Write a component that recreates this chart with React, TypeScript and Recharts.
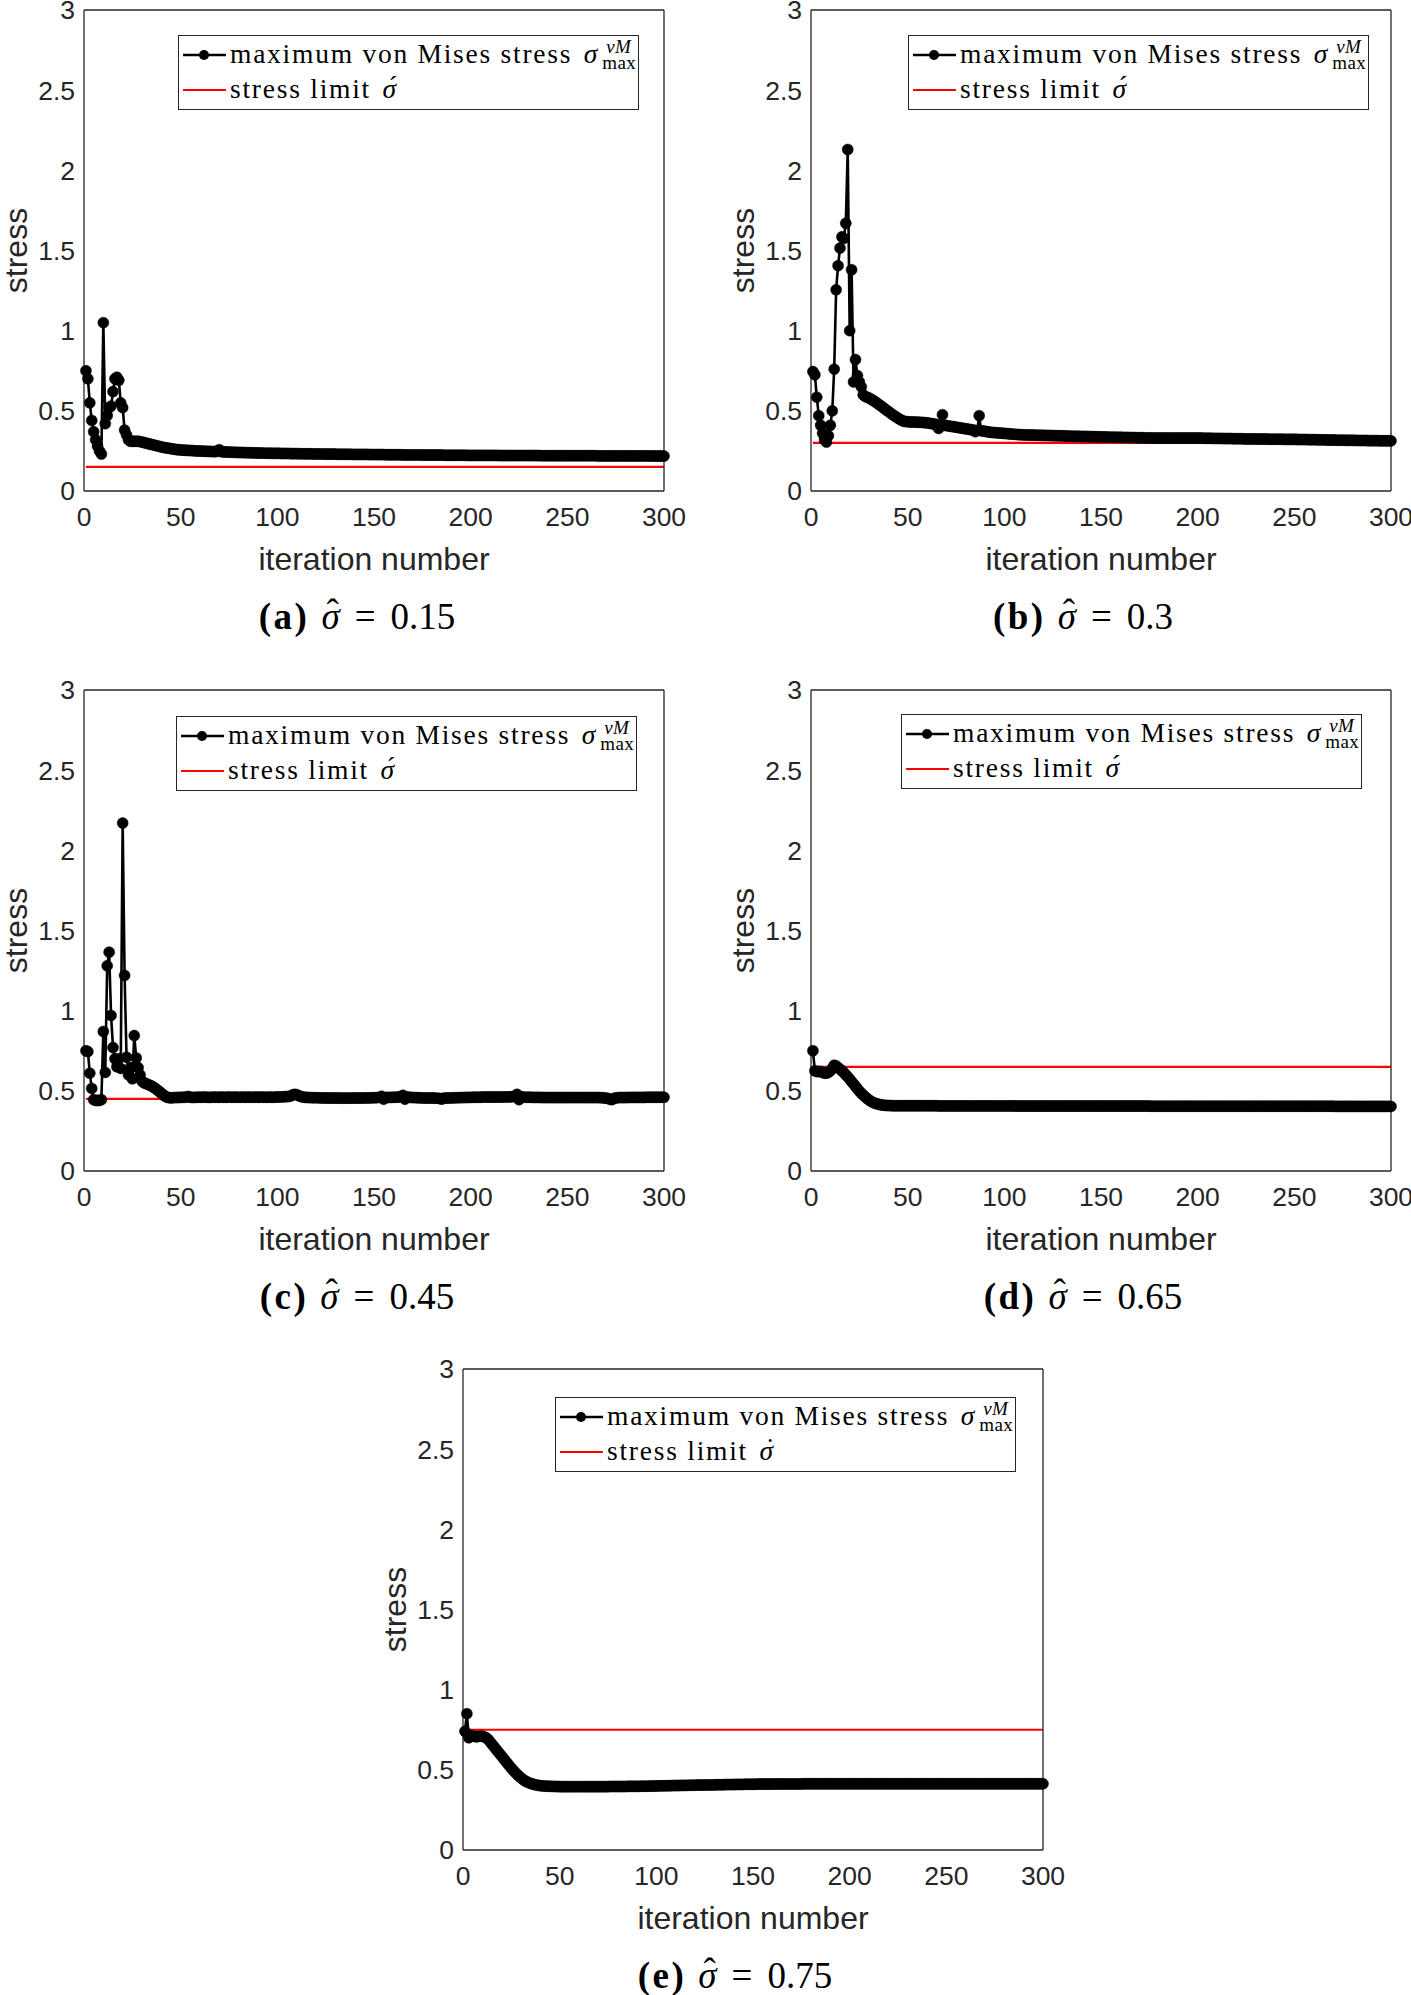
import React from 'react'
import { LineChart, Line, XAxis, YAxis, Legend } from 'recharts'

const AXIS = '#262626'
const SANS = '"Liberation Sans", Arial, Helvetica, sans-serif'
const SERIF = '"Liberation Serif", "Times New Roman", serif'

const xTicks = [0, 50, 100, 150, 200, 250, 300]
const yTicks = [0, 0.5, 1, 1.5, 2, 2.5, 3]
const limitSpan = [1, 300]

const panelTags = ['a', 'b', 'c', 'd', 'e']
const stressLimits = [0.15, 0.3, 0.45, 0.65, 0.75]

// max von Mises stress per iteration (1..300)
const stressA = [
  0.75, 0.70, 0.55, 0.44, 0.37, 0.32, 0.28, 0.25, 0.23, 1.05,
  0.42, 0.47, 0.52, 0.53, 0.62, 0.70, 0.71, 0.69, 0.55, 0.52,
  0.38, 0.35, 0.32, 0.31, 0.31, 0.31, 0.31, 0.31, 0.308, 0.305,
  0.302, 0.299, 0.296, 0.293, 0.29, 0.287, 0.284, 0.281, 0.278, 0.275,
  0.272, 0.27, 0.268, 0.266, 0.264, 0.262, 0.26, 0.258, 0.257, 0.256,
  0.255, 0.254, 0.254, 0.253, 0.252, 0.252, 0.251, 0.25, 0.25, 0.249,
  0.249, 0.248, 0.248, 0.247, 0.247, 0.246, 0.246, 0.245, 0.25, 0.258,
  0.245, 0.244, 0.244, 0.243, 0.243, 0.242, 0.242, 0.241, 0.241, 0.24,
  0.24, 0.24, 0.239, 0.239, 0.239, 0.238, 0.238, 0.238, 0.237, 0.237,
  0.237, 0.237, 0.236, 0.236, 0.236, 0.236, 0.235, 0.235, 0.235, 0.235,
  0.235, 0.234, 0.234, 0.234, 0.234, 0.234, 0.233, 0.233, 0.233, 0.233,
  0.233, 0.232, 0.232, 0.232, 0.232, 0.232, 0.232, 0.231, 0.231, 0.231,
  0.231, 0.231, 0.231, 0.23, 0.23, 0.23, 0.23, 0.23, 0.23, 0.23,
  0.229, 0.229, 0.229, 0.229, 0.229, 0.229, 0.229, 0.229, 0.228, 0.228,
  0.228, 0.228, 0.228, 0.228, 0.228, 0.228, 0.228, 0.227, 0.227, 0.227,
  0.227, 0.227, 0.227, 0.227, 0.227, 0.226, 0.226, 0.226, 0.226, 0.226,
  0.226, 0.226, 0.226, 0.226, 0.225, 0.225, 0.225, 0.225, 0.225, 0.225,
  0.225, 0.225, 0.225, 0.225, 0.224, 0.224, 0.224, 0.224, 0.224, 0.224,
  0.224, 0.224, 0.224, 0.224, 0.224, 0.223, 0.223, 0.223, 0.223, 0.223,
  0.223, 0.223, 0.223, 0.223, 0.223, 0.223, 0.223, 0.222, 0.222, 0.222,
  0.222, 0.222, 0.222, 0.222, 0.222, 0.222, 0.222, 0.222, 0.222, 0.222,
  0.222, 0.222, 0.222, 0.222, 0.221, 0.221, 0.221, 0.221, 0.221, 0.221,
  0.221, 0.221, 0.221, 0.221, 0.221, 0.221, 0.221, 0.221, 0.221, 0.221,
  0.221, 0.221, 0.221, 0.221, 0.221, 0.22, 0.22, 0.22, 0.22, 0.22,
  0.22, 0.22, 0.22, 0.22, 0.22, 0.22, 0.22, 0.22, 0.22, 0.22,
  0.22, 0.22, 0.22, 0.22, 0.22, 0.22, 0.22, 0.22, 0.22, 0.22,
  0.22, 0.22, 0.22, 0.22, 0.22, 0.219, 0.219, 0.219, 0.219, 0.219,
  0.219, 0.219, 0.219, 0.219, 0.219, 0.219, 0.219, 0.219, 0.219, 0.219,
  0.219, 0.219, 0.219, 0.219, 0.219, 0.219, 0.219, 0.219, 0.219, 0.219,
  0.219, 0.219, 0.219, 0.219, 0.218, 0.218, 0.218, 0.218, 0.218, 0.218,
]

const stressB = [
  0.745, 0.725, 0.585, 0.47, 0.41, 0.36, 0.32, 0.305, 0.345, 0.41,
  0.50, 0.76, 1.255, 1.405, 1.515, 1.585, 1.575, 1.67, 2.13, 1.0,
  1.38, 0.68, 0.82, 0.72, 0.68, 0.65, 0.60, 0.59, 0.585, 0.58,
  0.573, 0.566, 0.558, 0.55, 0.541, 0.532, 0.523, 0.514, 0.505, 0.496,
  0.487, 0.478, 0.47, 0.462, 0.454, 0.447, 0.44, 0.435, 0.433, 0.432,
  0.431, 0.431, 0.43, 0.43, 0.429, 0.429, 0.428, 0.427, 0.426, 0.425,
  0.423, 0.421, 0.419, 0.417, 0.415, 0.39, 0.412, 0.476, 0.41, 0.408,
  0.406, 0.404, 0.402, 0.40, 0.398, 0.396, 0.394, 0.392, 0.39, 0.388,
  0.386, 0.384, 0.382, 0.38, 0.37, 0.378, 0.47, 0.376, 0.374, 0.372,
  0.37, 0.368, 0.366, 0.365, 0.364, 0.363, 0.362, 0.361, 0.36, 0.359,
  0.358, 0.357, 0.356, 0.355, 0.354, 0.353, 0.352, 0.351, 0.351, 0.35,
  0.35, 0.35, 0.349, 0.349, 0.349, 0.348, 0.348, 0.348, 0.347, 0.347,
  0.347, 0.346, 0.346, 0.346, 0.345, 0.345, 0.345, 0.344, 0.344, 0.344,
  0.343, 0.343, 0.343, 0.342, 0.342, 0.342, 0.341, 0.341, 0.341, 0.34,
  0.34, 0.34, 0.34, 0.339, 0.339, 0.339, 0.338, 0.338, 0.338, 0.337,
  0.337, 0.337, 0.337, 0.336, 0.336, 0.336, 0.335, 0.335, 0.335, 0.335,
  0.334, 0.334, 0.334, 0.334, 0.333, 0.333, 0.333, 0.333, 0.332, 0.332,
  0.332, 0.332, 0.331, 0.331, 0.331, 0.331, 0.33, 0.33, 0.33, 0.33,
  0.33, 0.33, 0.33, 0.33, 0.33, 0.33, 0.33, 0.33, 0.33, 0.33,
  0.33, 0.33, 0.33, 0.33, 0.33, 0.33, 0.33, 0.33, 0.33, 0.33,
  0.33, 0.33, 0.329, 0.329, 0.329, 0.329, 0.329, 0.328, 0.328, 0.328,
  0.328, 0.328, 0.327, 0.327, 0.327, 0.327, 0.327, 0.326, 0.326, 0.326,
  0.326, 0.326, 0.326, 0.325, 0.325, 0.325, 0.325, 0.325, 0.325, 0.324,
  0.324, 0.324, 0.324, 0.324, 0.324, 0.324, 0.323, 0.323, 0.323, 0.323,
  0.323, 0.323, 0.323, 0.323, 0.322, 0.322, 0.322, 0.322, 0.322, 0.322,
  0.322, 0.321, 0.321, 0.321, 0.321, 0.321, 0.32, 0.32, 0.32, 0.32,
  0.32, 0.319, 0.319, 0.319, 0.319, 0.319, 0.318, 0.318, 0.318, 0.318,
  0.318, 0.317, 0.317, 0.317, 0.317, 0.317, 0.316, 0.316, 0.316, 0.316,
  0.316, 0.315, 0.315, 0.315, 0.315, 0.315, 0.315, 0.314, 0.314, 0.314,
  0.314, 0.314, 0.314, 0.313, 0.313, 0.313, 0.313, 0.313, 0.313, 0.313,
]

const stressC = [
  0.75, 0.745, 0.61, 0.515, 0.445, 0.44, 0.44, 0.44, 0.445, 0.87,
  0.615, 1.28, 1.365, 0.97, 0.77, 0.70, 0.65, 0.70, 0.64, 2.17,
  1.22, 0.71, 0.60, 0.645, 0.575, 0.845, 0.705, 0.645, 0.60, 0.56,
  0.55, 0.545, 0.54, 0.535, 0.53, 0.522, 0.514, 0.505, 0.495, 0.485,
  0.475, 0.466, 0.46, 0.457, 0.456, 0.457, 0.458, 0.458, 0.459, 0.459,
  0.46, 0.46, 0.461, 0.465, 0.46, 0.459, 0.459, 0.46, 0.46, 0.46,
  0.46, 0.461, 0.46, 0.46, 0.459, 0.46, 0.461, 0.46, 0.46, 0.46,
  0.461, 0.46, 0.46, 0.46, 0.461, 0.46, 0.46, 0.461, 0.46, 0.46,
  0.46, 0.461, 0.46, 0.46, 0.461, 0.46, 0.46, 0.46, 0.461, 0.46,
  0.46, 0.461, 0.46, 0.46, 0.46, 0.461, 0.46, 0.46, 0.461, 0.462,
  0.462, 0.462, 0.463, 0.463, 0.464, 0.465, 0.468, 0.475, 0.478, 0.476,
  0.47, 0.465, 0.462, 0.46, 0.459, 0.458, 0.458, 0.457, 0.457, 0.457,
  0.457, 0.456, 0.456, 0.456, 0.456, 0.455, 0.455, 0.455, 0.455, 0.455,
  0.455, 0.455, 0.455, 0.454, 0.455, 0.455, 0.454, 0.455, 0.455, 0.455,
  0.455, 0.455, 0.455, 0.455, 0.456, 0.456, 0.456, 0.456, 0.457, 0.457,
  0.457, 0.458, 0.46, 0.466, 0.448, 0.458, 0.459, 0.459, 0.459, 0.46,
  0.46, 0.46, 0.462, 0.465, 0.472, 0.448, 0.462, 0.46, 0.459, 0.458,
  0.458, 0.457, 0.457, 0.456, 0.456, 0.456, 0.455, 0.455, 0.455, 0.455,
  0.455, 0.454, 0.454, 0.452, 0.448, 0.454, 0.455, 0.455, 0.456, 0.456,
  0.456, 0.457, 0.457, 0.457, 0.458, 0.458, 0.458, 0.459, 0.459, 0.459,
  0.46, 0.46, 0.46, 0.46, 0.46, 0.461, 0.461, 0.461, 0.461, 0.461,
  0.461, 0.461, 0.461, 0.461, 0.461, 0.461, 0.462, 0.462, 0.462, 0.462,
  0.463, 0.464, 0.468, 0.478, 0.445, 0.462, 0.461, 0.46, 0.46, 0.46,
  0.46, 0.459, 0.459, 0.459, 0.459, 0.459, 0.458, 0.458, 0.458, 0.458,
  0.458, 0.458, 0.458, 0.458, 0.458, 0.458, 0.458, 0.458, 0.458, 0.458,
  0.458, 0.458, 0.458, 0.458, 0.458, 0.458, 0.458, 0.458, 0.458, 0.458,
  0.458, 0.458, 0.458, 0.458, 0.458, 0.458, 0.457, 0.457, 0.456, 0.455,
  0.452, 0.448, 0.445, 0.452, 0.456, 0.457, 0.458, 0.458, 0.458, 0.458,
  0.458, 0.459, 0.459, 0.459, 0.459, 0.459, 0.459, 0.459, 0.459, 0.459,
  0.46, 0.46, 0.46, 0.46, 0.46, 0.46, 0.46, 0.46, 0.46, 0.46,
]

const stressD = [
  0.75, 0.625, 0.62, 0.62, 0.62, 0.615, 0.61, 0.61, 0.615, 0.625,
  0.64, 0.66, 0.655, 0.645, 0.635, 0.625, 0.613, 0.60, 0.587, 0.573,
  0.558, 0.543, 0.528, 0.513, 0.498, 0.485, 0.474, 0.463, 0.452, 0.443,
  0.435, 0.428, 0.423, 0.419, 0.416, 0.413, 0.411, 0.41, 0.409, 0.408,
  0.408, 0.407, 0.407, 0.407, 0.407, 0.407, 0.407, 0.407, 0.407, 0.407,
  0.407, 0.407, 0.407, 0.407, 0.407, 0.407, 0.407, 0.407, 0.407, 0.407,
  0.407, 0.407, 0.407, 0.407, 0.407, 0.406, 0.406, 0.406, 0.406, 0.406,
  0.406, 0.406, 0.406, 0.406, 0.406, 0.406, 0.406, 0.406, 0.406, 0.406,
  0.406, 0.406, 0.406, 0.406, 0.406, 0.406, 0.406, 0.406, 0.406, 0.406,
  0.406, 0.406, 0.406, 0.406, 0.406, 0.406, 0.406, 0.406, 0.406, 0.406,
  0.406, 0.406, 0.406, 0.406, 0.406, 0.405, 0.405, 0.405, 0.405, 0.405,
  0.405, 0.405, 0.405, 0.405, 0.405, 0.405, 0.405, 0.405, 0.405, 0.405,
  0.405, 0.405, 0.405, 0.405, 0.405, 0.405, 0.405, 0.405, 0.405, 0.405,
  0.405, 0.405, 0.405, 0.405, 0.405, 0.405, 0.405, 0.405, 0.405, 0.405,
  0.405, 0.405, 0.405, 0.405, 0.405, 0.405, 0.405, 0.405, 0.405, 0.405,
  0.405, 0.405, 0.405, 0.405, 0.405, 0.405, 0.405, 0.405, 0.405, 0.405,
  0.405, 0.405, 0.405, 0.405, 0.405, 0.405, 0.405, 0.405, 0.405, 0.405,
  0.405, 0.405, 0.405, 0.405, 0.405, 0.404, 0.404, 0.404, 0.404, 0.404,
  0.404, 0.404, 0.404, 0.404, 0.404, 0.404, 0.404, 0.404, 0.404, 0.404,
  0.404, 0.404, 0.404, 0.404, 0.404, 0.404, 0.404, 0.404, 0.404, 0.404,
  0.404, 0.404, 0.404, 0.404, 0.404, 0.404, 0.404, 0.404, 0.404, 0.404,
  0.404, 0.404, 0.404, 0.404, 0.404, 0.404, 0.404, 0.404, 0.404, 0.404,
  0.404, 0.404, 0.404, 0.404, 0.404, 0.404, 0.404, 0.404, 0.404, 0.404,
  0.404, 0.404, 0.404, 0.404, 0.404, 0.404, 0.404, 0.404, 0.404, 0.404,
  0.404, 0.404, 0.404, 0.404, 0.404, 0.404, 0.404, 0.404, 0.404, 0.404,
  0.404, 0.404, 0.404, 0.404, 0.404, 0.404, 0.404, 0.404, 0.404, 0.404,
  0.404, 0.404, 0.404, 0.404, 0.404, 0.404, 0.404, 0.404, 0.404, 0.404,
  0.403, 0.403, 0.403, 0.403, 0.403, 0.403, 0.403, 0.403, 0.403, 0.403,
  0.403, 0.403, 0.403, 0.403, 0.403, 0.403, 0.403, 0.403, 0.403, 0.403,
  0.403, 0.403, 0.403, 0.403, 0.403, 0.403, 0.403, 0.403, 0.403, 0.403,
]

const stressE = [
  0.74, 0.85, 0.70, 0.715, 0.71, 0.71, 0.705, 0.71, 0.71, 0.71,
  0.705, 0.70, 0.69, 0.675, 0.66, 0.645, 0.63, 0.615, 0.60, 0.585,
  0.57, 0.555, 0.54, 0.525, 0.51, 0.497, 0.484, 0.472, 0.46, 0.45,
  0.44, 0.432, 0.425, 0.42, 0.415, 0.411, 0.408, 0.405, 0.403, 0.401,
  0.40, 0.399, 0.398, 0.398, 0.397, 0.397, 0.396, 0.396, 0.396, 0.395,
  0.395, 0.395, 0.395, 0.395, 0.395, 0.395, 0.395, 0.395, 0.395, 0.395,
  0.395, 0.395, 0.395, 0.395, 0.395, 0.395, 0.395, 0.395, 0.395, 0.395,
  0.395, 0.395, 0.395, 0.395, 0.395, 0.396, 0.396, 0.396, 0.396, 0.396,
  0.396, 0.396, 0.396, 0.396, 0.397, 0.397, 0.397, 0.397, 0.397, 0.397,
  0.397, 0.398, 0.398, 0.398, 0.398, 0.398, 0.399, 0.399, 0.399, 0.399,
  0.40, 0.40, 0.40, 0.40, 0.401, 0.401, 0.401, 0.401, 0.402, 0.402,
  0.402, 0.402, 0.403, 0.403, 0.403, 0.403, 0.404, 0.404, 0.404, 0.404,
  0.405, 0.405, 0.405, 0.405, 0.405, 0.406, 0.406, 0.406, 0.406, 0.406,
  0.407, 0.407, 0.407, 0.407, 0.407, 0.408, 0.408, 0.408, 0.408, 0.408,
  0.409, 0.409, 0.409, 0.409, 0.409, 0.41, 0.41, 0.41, 0.41, 0.41,
  0.41, 0.41, 0.411, 0.411, 0.411, 0.411, 0.411, 0.411, 0.411, 0.411,
  0.412, 0.412, 0.412, 0.412, 0.412, 0.412, 0.412, 0.412, 0.412, 0.412,
  0.412, 0.412, 0.412, 0.412, 0.412, 0.413, 0.413, 0.413, 0.413, 0.413,
  0.413, 0.413, 0.413, 0.413, 0.413, 0.413, 0.413, 0.413, 0.413, 0.413,
  0.413, 0.413, 0.413, 0.413, 0.413, 0.413, 0.413, 0.413, 0.413, 0.413,
  0.413, 0.413, 0.413, 0.413, 0.413, 0.413, 0.413, 0.413, 0.413, 0.413,
  0.413, 0.413, 0.413, 0.413, 0.413, 0.413, 0.413, 0.413, 0.413, 0.413,
  0.413, 0.413, 0.413, 0.413, 0.413, 0.413, 0.413, 0.413, 0.413, 0.413,
  0.413, 0.413, 0.413, 0.413, 0.413, 0.413, 0.413, 0.413, 0.413, 0.413,
  0.413, 0.413, 0.413, 0.413, 0.413, 0.413, 0.413, 0.413, 0.413, 0.413,
  0.413, 0.413, 0.413, 0.413, 0.413, 0.413, 0.413, 0.413, 0.413, 0.413,
  0.413, 0.413, 0.413, 0.413, 0.413, 0.413, 0.413, 0.413, 0.413, 0.413,
  0.413, 0.413, 0.413, 0.413, 0.413, 0.413, 0.413, 0.413, 0.413, 0.413,
  0.413, 0.413, 0.413, 0.413, 0.413, 0.413, 0.413, 0.413, 0.413, 0.413,
  0.413, 0.413, 0.413, 0.413, 0.413, 0.413, 0.413, 0.413, 0.413, 0.413,
]

const stressSeries = [stressA, stressB, stressC, stressD, stressE]

// page placement of each subplot (px)
const panels = [
  { plotLeft: 84, plotTop: 10, legendLeft: 94, legendTop: 25, captionX: 357, accent: '\u00B4' },
  { plotLeft: 811, plotTop: 10, legendLeft: 97, legendTop: 25, captionX: 1083, accent: '\u00B4' },
  { plotLeft: 84, plotTop: 690, legendLeft: 92, legendTop: 26, captionX: 357, accent: '\u00B4' },
  { plotLeft: 811, plotTop: 690, legendLeft: 90, legendTop: 24, captionX: 1083, accent: '\u00B4' },
  { plotLeft: 463, plotTop: 1369, legendLeft: 92, legendTop: 28, captionX: 735, accent: '\u02D9' },
]

const CHART_W = 704
const CHART_H = 600
const Y_AXIS_W = 84

function LegendBox({ accent }: { accent: string }) {
  return (
    <div
      style={{
        position: 'relative', width: 461, height: 75, boxSizing: 'border-box',
        border: `1.5px solid ${AXIS}`, background: '#fff', color: '#000',
        fontFamily: SERIF, fontSize: 27.5, letterSpacing: 1.75, whiteSpace: 'nowrap',
      }}
    >
      <svg width={60} height={75} style={{ position: 'absolute', left: -1, top: -1 }}>
        <line x1={5} y1={20} x2={48} y2={20} stroke="#000" strokeWidth={2.5} />
        <circle cx={26} cy={20} r={5} fill="#000" />
        <line x1={5} y1={55} x2={48} y2={55} stroke="#ff0000" strokeWidth={2.2} />
      </svg>
      <div style={{ position: 'absolute', left: 51, top: 4, lineHeight: '28px' }}>
        maximum von Mises stress <i style={{ marginLeft: 3 }}>σ</i>
        <span style={{ display: 'inline-block', position: 'relative', width: 38, height: 10, marginLeft: 3, letterSpacing: 0.5 }}>
          <span style={{ position: 'absolute', left: 4, bottom: 7, fontSize: 19, lineHeight: '19px', fontStyle: 'italic' }}>vM</span>
          <span style={{ position: 'absolute', left: 0, top: 0, fontSize: 19, lineHeight: '19px' }}>max</span>
        </span>
      </div>
      <div style={{ position: 'absolute', left: 51, top: 39, lineHeight: '28px' }}>
        stress limit{' '}
        <span style={{ position: 'relative', display: 'inline-block', marginLeft: 3 }}>
          <i>σ</i>
          <span style={{ position: 'absolute', left: '0.22em', top: '-0.12em', fontStyle: 'normal' }}>{accent}</span>
        </span>
      </div>
    </div>
  )
}

function Caption({ tag, limit, left }: { tag: string; limit: number; left: number }) {
  return (
    <div
      style={{
        position: 'absolute', left: left - 150, width: 300, top: 599, textAlign: 'center',
        fontFamily: SERIF, fontSize: 37, lineHeight: '36px', whiteSpace: 'nowrap', color: '#000',
      }}
    >
      <b style={{ letterSpacing: 2.5 }}>({tag})</b>
      <span style={{ position: 'relative', display: 'inline-block', marginLeft: 12 }}>
        <i>σ</i>
        <span style={{ position: 'absolute', left: '0.14em', top: '-0.1em' }}>ˆ</span>
      </span>
      <span style={{ marginLeft: 15 }}>=</span>
      <span style={{ marginLeft: 15 }}>{limit}</span>
    </div>
  )
}

function StressPanel({ idx }: { idx: number }) {
  const p = panels[idx]
  const data = stressSeries[idx].map((v, i) => ({ it: i + 1, v }))
  const limitData = limitSpan.map((it) => ({ it, lim: stressLimits[idx] }))
  const left = p.plotLeft - Y_AXIS_W
  const top = p.plotTop - 10
  const tickFont = { fontSize: 26.5, fill: AXIS, fontFamily: SANS }
  const axisStroke = { stroke: AXIS, strokeWidth: 1.3 }

  return (
    <div style={{ position: 'absolute', left, top, width: CHART_W, height: CHART_H }}>
      <LineChart width={CHART_W} height={CHART_H} margin={{ top: 10, right: 40, bottom: 29, left: 0 }}>
        <XAxis
          xAxisId="x" type="number" dataKey="it" domain={[0, 300]} ticks={xTicks} interval={0}
          height={80} tickLine={false} axisLine={axisStroke} tick={tickFont} tickSize={6} tickMargin={10}
          label={{ value: 'iteration number', position: 'insideBottom', offset: 1, fontSize: 32, fill: AXIS, fontFamily: SANS }}
        />
        <XAxis
          xAxisId="xb" type="number" domain={[0, 300]} ticks={xTicks} interval={0} orientation="bottom"
          mirror tick={false} tickLine={axisStroke} tickSize={6} axisLine={false}
        />
        <XAxis
          xAxisId="xt" type="number" domain={[0, 300]} ticks={xTicks} interval={0} orientation="top"
          mirror tick={false} tickLine={axisStroke} tickSize={6} axisLine={axisStroke}
        />
        <YAxis
          yAxisId="y" type="number" domain={[0, 3]} ticks={yTicks} interval={0} width={Y_AXIS_W}
          tickLine={false} axisLine={axisStroke} tick={tickFont} tickSize={6} tickMargin={3}
          label={{
            value: 'stress', angle: -90, position: 'insideLeft', offset: 16,
            fontSize: 32, fill: AXIS, fontFamily: SANS, style: { textAnchor: 'middle' },
          }}
        />
        <YAxis
          yAxisId="yl" type="number" domain={[0, 3]} ticks={yTicks} interval={0} orientation="left"
          mirror tick={false} tickLine={axisStroke} tickSize={6} axisLine={false}
        />
        <YAxis
          yAxisId="yr" type="number" domain={[0, 3]} ticks={yTicks} interval={0} orientation="right"
          mirror tick={false} tickLine={axisStroke} tickSize={6} axisLine={axisStroke}
        />
        <Legend
          layout="vertical" align="center" verticalAlign="middle"
          wrapperStyle={{ position: 'absolute', left: p.plotLeft - left + p.legendLeft, top: p.legendTop + 10, width: 461, height: 75 }}
          content={() => <LegendBox accent={p.accent} />}
        />
        <Line
          xAxisId="x" yAxisId="y" data={data} dataKey="v" type="linear"
          stroke="#000" strokeWidth={2.6} isAnimationActive={false}
          dot={{ r: 5.5, fill: '#000', stroke: '#000', strokeWidth: 0.5 }} activeDot={false}
        />
        <Line
          xAxisId="x" yAxisId="y" data={limitData} dataKey="lim" type="linear"
          stroke="#ff0000" strokeWidth={2.2} dot={false} activeDot={false} isAnimationActive={false}
        />
      </LineChart>
      <Caption tag={panelTags[idx]} limit={stressLimits[idx]} left={p.captionX - left} />
    </div>
  )
}

export default function App() {
  return (
    <div style={{ position: 'absolute', left: 0, top: 0, width: 1411, height: 1995, overflow: 'hidden', background: '#fff' }}>
      {panelTags.map((tag, i) => (
        <StressPanel key={tag} idx={i} />
      ))}
    </div>
  )
}
